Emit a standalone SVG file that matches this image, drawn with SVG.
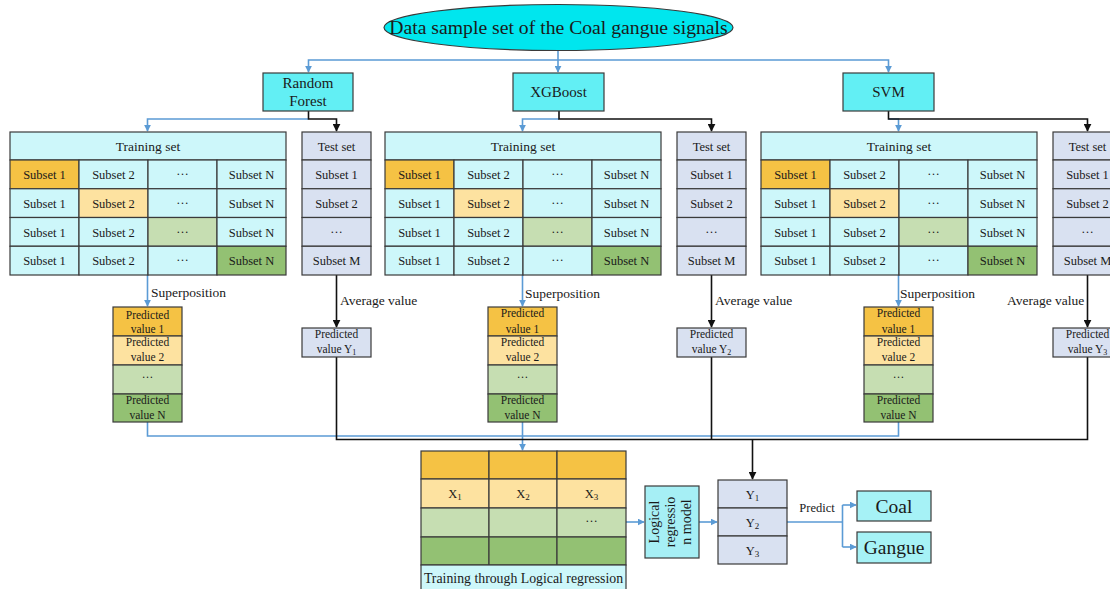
<svg xmlns="http://www.w3.org/2000/svg" width="1110" height="589" viewBox="0 0 1110 589">
<defs>
<style>
text{font-family:"Liberation Serif","Times New Roman",serif;fill:#1a1a1a;text-anchor:middle}
.c{stroke:#3a3a3a;stroke-width:1.2}
.tr{fill:#cdf7fa}
.te{fill:#d9e1f1}
.o1{fill:#f5c244}
.o2{fill:#fde2a0}
.g1{fill:#c6deb2}
.g2{fill:#93c173}
.top{fill:#62eff4}
.s{font-size:12.5px}
.h{font-size:13.5px}
.p{font-size:11.5px}
.lb{font-size:13.5px;text-anchor:start}
.bl{fill:none;stroke:#5b9bd5;stroke-width:1.6}
.bk{fill:none;stroke:#111;stroke-width:1.6}
</style>
<marker id="ab" viewBox="0 0 10 10" refX="9" refY="5" markerWidth="7" markerHeight="7" orient="auto" markerUnits="userSpaceOnUse"><path d="M0,0 L10,5 L0,10 z" fill="#5b9bd5"/></marker>
<marker id="ak" viewBox="0 0 10 10" refX="9" refY="5" markerWidth="8" markerHeight="8" orient="auto" markerUnits="userSpaceOnUse"><path d="M0,0 L10,5 L0,10 z" fill="#111"/></marker>
</defs>
<rect width="1110" height="589" fill="#fff"/>

<g id="connectors">
<path class="bl" d="M558,51 V72" marker-end="url(#ab)"/>
<path class="bl" d="M558,60 H308.5 V72" marker-end="url(#ab)"/>
<path class="bl" d="M558,60 H888.5 V72" marker-end="url(#ab)"/>
<path class="bl" d="M308.5,119 H147.5 V131" marker-end="url(#ab)"/>
<path class="bk" d="M308.5,111 V119 H336.5 V131" marker-end="url(#ak)"/>
<path class="bl" d="M559,119 H522.5 V131" marker-end="url(#ab)"/>
<path class="bk" d="M559,111 V119 H711.5 V131" marker-end="url(#ak)"/>
<path class="bl" d="M888.5,119 H898.5 V131" marker-end="url(#ab)"/>
<path class="bk" d="M888.5,111 V119 H1087.5 V131" marker-end="url(#ak)"/>
<path class="bl" d="M147.5,275 V306" marker-end="url(#ab)"/>
<path class="bl" d="M522.5,275 V306" marker-end="url(#ab)"/>
<path class="bl" d="M898.5,275 V306" marker-end="url(#ab)"/>
<path class="bk" d="M336.5,275 V327" marker-end="url(#ak)"/>
<path class="bk" d="M711.5,275 V327" marker-end="url(#ak)"/>
<path class="bk" d="M1087.5,275 V327" marker-end="url(#ak)"/>
<path class="bl" d="M147.5,422 V436 H898.5 V422"/>
<path class="bl" d="M522.5,422 V450" marker-end="url(#ab)"/>
<path class="bk" d="M336.5,357 V439.5 H1087.5 V357"/>
<path class="bk" d="M711.5,357 V439.5"/>
<path class="bk" d="M752.5,439.5 V479" marker-end="url(#ak)"/>
<path class="bl" d="M626,522 H644" marker-end="url(#ab)"/>
<path class="bl" d="M699,522 H717" marker-end="url(#ab)"/>
<path class="bl" d="M787,522 H842.5 M842.5,505 V547"/>
<path class="bl" d="M842.5,505 H856" marker-end="url(#ab)"/>
<path class="bl" d="M842.5,547 H856" marker-end="url(#ab)"/>
</g>

<g id="title">
<ellipse cx="558.5" cy="27.5" rx="174.5" ry="23" fill="#00e6ee" class="c"/>
<text x="558.5" y="34" font-size="19.7">Data sample set of the Coal gangue signals</text>
</g>

<g id="rf">
<rect x="263" y="73" width="90" height="38" class="top c"/>
<text x="308" y="88" font-size="15">Random</text>
<text x="308" y="106" font-size="15">Forest</text>
</g>
<g id="xgb">
<rect x="513" y="73" width="91" height="38" class="top c"/>
<text x="558.5" y="97" font-size="15">XGBoost</text>
</g>
<g id="svm">
<rect x="843" y="73" width="91" height="38" class="top c"/>
<text x="888.5" y="97" font-size="15">SVM</text>
</g>

<g id="train1">
<rect x="10" y="132" width="276" height="28" class="tr c"/>
<text x="148" y="150.5" class="h">Training set</text>
<rect x="10" y="160" width="69" height="28.75" class="o1 c"/><rect x="79" y="160" width="69" height="28.75" class="tr c"/><rect x="148" y="160" width="69" height="28.75" class="tr c"/><rect x="217" y="160" width="69" height="28.75" class="tr c"/>
<rect x="10" y="188.75" width="69" height="28.75" class="tr c"/><rect x="79" y="188.75" width="69" height="28.75" class="o2 c"/><rect x="148" y="188.75" width="69" height="28.75" class="tr c"/><rect x="217" y="188.75" width="69" height="28.75" class="tr c"/>
<rect x="10" y="217.5" width="69" height="28.75" class="tr c"/><rect x="79" y="217.5" width="69" height="28.75" class="tr c"/><rect x="148" y="217.5" width="69" height="28.75" class="g1 c"/><rect x="217" y="217.5" width="69" height="28.75" class="tr c"/>
<rect x="10" y="246.25" width="69" height="28.75" class="tr c"/><rect x="79" y="246.25" width="69" height="28.75" class="tr c"/><rect x="148" y="246.25" width="69" height="28.75" class="tr c"/><rect x="217" y="246.25" width="69" height="28.75" class="g2 c"/>
<g class="s">
<text x="44.5" y="179">Subset 1</text><text x="113.5" y="179">Subset 2</text><text x="182.5" y="175">…</text><text x="251.5" y="179">Subset N</text>
<text x="44.5" y="208">Subset 1</text><text x="113.5" y="208">Subset 2</text><text x="182.5" y="204">…</text><text x="251.5" y="208">Subset N</text>
<text x="44.5" y="236.5">Subset 1</text><text x="113.5" y="236.5">Subset 2</text><text x="182.5" y="232.5">…</text><text x="251.5" y="236.5">Subset N</text>
<text x="44.5" y="265">Subset 1</text><text x="113.5" y="265">Subset 2</text><text x="182.5" y="261">…</text><text x="251.5" y="265">Subset N</text>
</g>
</g>

<g id="train2">
<rect x="385" y="132" width="276" height="28" class="tr c"/>
<text x="523" y="150.5" class="h">Training set</text>
<rect x="385" y="160" width="69" height="28.75" class="o1 c"/><rect x="454" y="160" width="69" height="28.75" class="tr c"/><rect x="523" y="160" width="69" height="28.75" class="tr c"/><rect x="592" y="160" width="69" height="28.75" class="tr c"/>
<rect x="385" y="188.75" width="69" height="28.75" class="tr c"/><rect x="454" y="188.75" width="69" height="28.75" class="o2 c"/><rect x="523" y="188.75" width="69" height="28.75" class="tr c"/><rect x="592" y="188.75" width="69" height="28.75" class="tr c"/>
<rect x="385" y="217.5" width="69" height="28.75" class="tr c"/><rect x="454" y="217.5" width="69" height="28.75" class="tr c"/><rect x="523" y="217.5" width="69" height="28.75" class="g1 c"/><rect x="592" y="217.5" width="69" height="28.75" class="tr c"/>
<rect x="385" y="246.25" width="69" height="28.75" class="tr c"/><rect x="454" y="246.25" width="69" height="28.75" class="tr c"/><rect x="523" y="246.25" width="69" height="28.75" class="tr c"/><rect x="592" y="246.25" width="69" height="28.75" class="g2 c"/>
<g class="s">
<text x="419.5" y="179">Subset 1</text><text x="488.5" y="179">Subset 2</text><text x="557.5" y="175">…</text><text x="626.5" y="179">Subset N</text>
<text x="419.5" y="208">Subset 1</text><text x="488.5" y="208">Subset 2</text><text x="557.5" y="204">…</text><text x="626.5" y="208">Subset N</text>
<text x="419.5" y="236.5">Subset 1</text><text x="488.5" y="236.5">Subset 2</text><text x="557.5" y="232.5">…</text><text x="626.5" y="236.5">Subset N</text>
<text x="419.5" y="265">Subset 1</text><text x="488.5" y="265">Subset 2</text><text x="557.5" y="261">…</text><text x="626.5" y="265">Subset N</text>
</g>
</g>

<g id="train3">
<rect x="761" y="132" width="276" height="28" class="tr c"/>
<text x="899" y="150.5" class="h">Training set</text>
<rect x="761" y="160" width="69" height="28.75" class="o1 c"/><rect x="830" y="160" width="69" height="28.75" class="tr c"/><rect x="899" y="160" width="69" height="28.75" class="tr c"/><rect x="968" y="160" width="69" height="28.75" class="tr c"/>
<rect x="761" y="188.75" width="69" height="28.75" class="tr c"/><rect x="830" y="188.75" width="69" height="28.75" class="o2 c"/><rect x="899" y="188.75" width="69" height="28.75" class="tr c"/><rect x="968" y="188.75" width="69" height="28.75" class="tr c"/>
<rect x="761" y="217.5" width="69" height="28.75" class="tr c"/><rect x="830" y="217.5" width="69" height="28.75" class="tr c"/><rect x="899" y="217.5" width="69" height="28.75" class="g1 c"/><rect x="968" y="217.5" width="69" height="28.75" class="tr c"/>
<rect x="761" y="246.25" width="69" height="28.75" class="tr c"/><rect x="830" y="246.25" width="69" height="28.75" class="tr c"/><rect x="899" y="246.25" width="69" height="28.75" class="tr c"/><rect x="968" y="246.25" width="69" height="28.75" class="g2 c"/>
<g class="s">
<text x="795.5" y="179">Subset 1</text><text x="864.5" y="179">Subset 2</text><text x="933.5" y="175">…</text><text x="1002.5" y="179">Subset N</text>
<text x="795.5" y="208">Subset 1</text><text x="864.5" y="208">Subset 2</text><text x="933.5" y="204">…</text><text x="1002.5" y="208">Subset N</text>
<text x="795.5" y="236.5">Subset 1</text><text x="864.5" y="236.5">Subset 2</text><text x="933.5" y="232.5">…</text><text x="1002.5" y="236.5">Subset N</text>
<text x="795.5" y="265">Subset 1</text><text x="864.5" y="265">Subset 2</text><text x="933.5" y="261">…</text><text x="1002.5" y="265">Subset N</text>
</g>
</g>

<g id="test1">
<rect x="302" y="132" width="69" height="28" class="te c"/>
<rect x="302" y="160" width="69" height="28.75" class="te c"/><rect x="302" y="188.75" width="69" height="28.75" class="te c"/><rect x="302" y="217.5" width="69" height="28.75" class="te c"/><rect x="302" y="246.25" width="69" height="28.75" class="te c"/>
<g class="s"><text x="336.5" y="150.5">Test set</text><text x="336.5" y="179">Subset 1</text><text x="336.5" y="208">Subset 2</text><text x="336.5" y="232.5">…</text><text x="336.5" y="265">Subset M</text></g>
</g>
<g id="test2">
<rect x="677" y="132" width="69" height="28" class="te c"/>
<rect x="677" y="160" width="69" height="28.75" class="te c"/><rect x="677" y="188.75" width="69" height="28.75" class="te c"/><rect x="677" y="217.5" width="69" height="28.75" class="te c"/><rect x="677" y="246.25" width="69" height="28.75" class="te c"/>
<g class="s"><text x="711.5" y="150.5">Test set</text><text x="711.5" y="179">Subset 1</text><text x="711.5" y="208">Subset 2</text><text x="711.5" y="232.5">…</text><text x="711.5" y="265">Subset M</text></g>
</g>
<g id="test3">
<rect x="1053" y="132" width="69" height="28" class="te c"/>
<rect x="1053" y="160" width="69" height="28.75" class="te c"/><rect x="1053" y="188.75" width="69" height="28.75" class="te c"/><rect x="1053" y="217.5" width="69" height="28.75" class="te c"/><rect x="1053" y="246.25" width="69" height="28.75" class="te c"/>
<g class="s"><text x="1087.5" y="150.5">Test set</text><text x="1087.5" y="179">Subset 1</text><text x="1087.5" y="208">Subset 2</text><text x="1087.5" y="232.5">…</text><text x="1087.5" y="265">Subset M</text></g>
</g>

<g id="labels">
<text x="151" y="297" class="lb">Superposition</text>
<text x="525" y="298" class="lb">Superposition</text>
<text x="900" y="298" class="lb">Superposition</text>
<text x="340" y="305" class="lb">Average value</text>
<text x="715" y="305" class="lb">Average value</text>
<text x="1007" y="305" class="lb">Average value</text>
</g>

<g id="stack1">
<rect x="113" y="307" width="69" height="29" class="o1 c"/><rect x="113" y="336" width="69" height="29" class="o2 c"/><rect x="113" y="365" width="69" height="29" class="g1 c"/><rect x="113" y="394" width="69" height="28" class="g2 c"/>
<g class="p"><text x="147.5" y="319">Predicted</text><text x="147.5" y="333">value 1</text><text x="147.5" y="346">Predicted</text><text x="147.5" y="361">value 2</text><text x="147.5" y="378">…</text><text x="147.5" y="404">Predicted</text><text x="147.5" y="419">value N</text></g>
</g>
<g id="stack2">
<rect x="488" y="307" width="69" height="29" class="o1 c"/><rect x="488" y="336" width="69" height="29" class="o2 c"/><rect x="488" y="365" width="69" height="29" class="g1 c"/><rect x="488" y="394" width="69" height="28" class="g2 c"/>
<g class="p"><text x="522.5" y="317">Predicted</text><text x="522.5" y="333">value 1</text><text x="522.5" y="346">Predicted</text><text x="522.5" y="361">value 2</text><text x="522.5" y="378">…</text><text x="522.5" y="404">Predicted</text><text x="522.5" y="419">value N</text></g>
</g>
<g id="stack3">
<rect x="864" y="307" width="69" height="29" class="o1 c"/><rect x="864" y="336" width="69" height="29" class="o2 c"/><rect x="864" y="365" width="69" height="29" class="g1 c"/><rect x="864" y="394" width="69" height="28" class="g2 c"/>
<g class="p"><text x="898.5" y="317">Predicted</text><text x="898.5" y="333">value 1</text><text x="898.5" y="346">Predicted</text><text x="898.5" y="361">value 2</text><text x="898.5" y="378">…</text><text x="898.5" y="404">Predicted</text><text x="898.5" y="419">value N</text></g>
</g>

<g id="py1">
<rect x="302" y="328" width="69" height="29" class="te c"/>
<g class="p"><text x="336.5" y="338">Predicted</text><text x="336.5" y="353">value Y<tspan font-size="8" dy="2">1</tspan></text></g>
</g>
<g id="py2">
<rect x="677" y="328" width="69" height="29" class="te c"/>
<g class="p"><text x="711.5" y="338">Predicted</text><text x="711.5" y="353">value Y<tspan font-size="8" dy="2">2</tspan></text></g>
</g>
<g id="py3">
<rect x="1053" y="328" width="69" height="29" class="te c"/>
<g class="p"><text x="1087.5" y="338">Predicted</text><text x="1087.5" y="353">value Y<tspan font-size="8" dy="2">3</tspan></text></g>
</g>

<g id="lrtable">
<rect x="421" y="451" width="68" height="28" class="o1 c"/><rect x="489" y="451" width="68" height="28" class="o1 c"/><rect x="557" y="451" width="69" height="28" class="o1 c"/>
<rect x="421" y="479" width="68" height="29" class="o2 c"/><rect x="489" y="479" width="68" height="29" class="o2 c"/><rect x="557" y="479" width="69" height="29" class="o2 c"/>
<rect x="421" y="508" width="68" height="29" class="g1 c"/><rect x="489" y="508" width="68" height="29" class="g1 c"/><rect x="557" y="508" width="69" height="29" class="g1 c"/>
<rect x="421" y="537" width="68" height="28" class="g2 c"/><rect x="489" y="537" width="68" height="28" class="g2 c"/><rect x="557" y="537" width="69" height="28" class="g2 c"/>
<rect x="421" y="565" width="205" height="30" class="tr c"/>
<g class="s"><text x="455" y="498">X<tspan font-size="9" dy="2">1</tspan></text><text x="523" y="498">X<tspan font-size="9" dy="2">2</tspan></text><text x="591.5" y="498">X<tspan font-size="9" dy="2">3</tspan></text><text x="591.5" y="522">…</text></g>
<text x="523.5" y="583" font-size="13.8">Training through Logical regression</text>
</g>

<g id="lrmodel">
<rect x="645" y="486" width="54" height="72" fill="#a6eff5" class="c"/>
<text transform="translate(672,522) rotate(-90)" font-size="14"><tspan x="0" y="-13">Logical</tspan><tspan x="0" y="3">regressio</tspan><tspan x="0" y="19">n model</tspan></text>
</g>

<g id="ybox">
<rect x="718" y="480" width="69" height="28" class="te c"/><rect x="718" y="508" width="69" height="28" class="te c"/><rect x="718" y="536" width="69" height="28" class="te c"/>
<g class="s"><text x="752.5" y="499">Y<tspan font-size="9" dy="2">1</tspan></text><text x="752.5" y="527">Y<tspan font-size="9" dy="2">2</tspan></text><text x="752.5" y="555">Y<tspan font-size="9" dy="2">3</tspan></text></g>
</g>

<g id="predictlabel"><text x="817" y="512" font-size="12.5">Predict</text></g>

<g id="coal">
<rect x="857" y="491" width="74" height="30" fill="#a6f2f6" class="c"/>
<text x="894" y="512.5" font-size="19.5">Coal</text>
</g>
<g id="gangue">
<rect x="857" y="532" width="74" height="31" fill="#a6f2f6" class="c"/>
<text x="894" y="554" font-size="19.5">Gangue</text>
</g>
</svg>
